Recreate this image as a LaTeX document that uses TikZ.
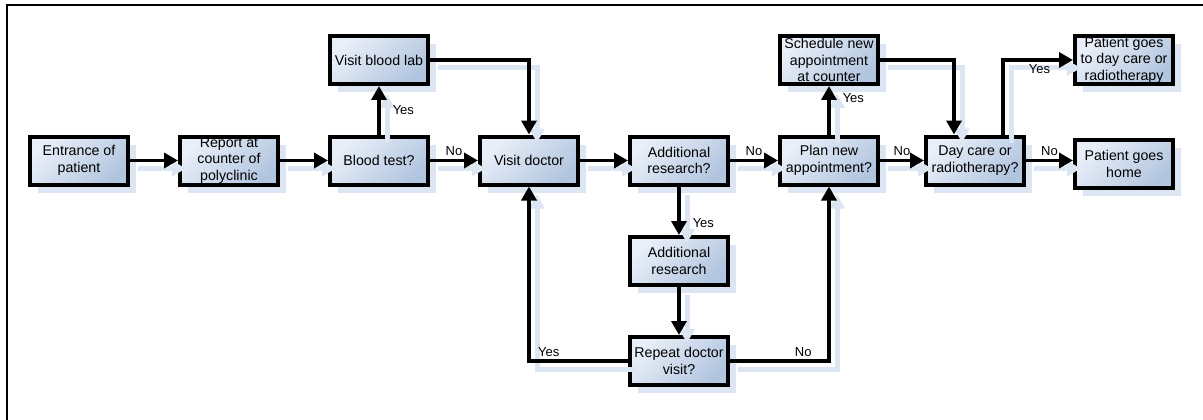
\documentclass[tikz,border=0pt]{standalone}
\usepackage{fontspec}
\setmainfont{Liberation Sans}
\usetikzlibrary{arrows.meta,shadows}
\definecolor{boxlight}{HTML}{E9EFF8}
\definecolor{boxdark}{HTML}{B2C5DF}
\definecolor{shadowc}{HTML}{DCE5F2}
\begin{document}
\begin{tikzpicture}[x=1pt,y=-1pt,
  stepbox/.style={draw=black, line width=4pt, minimum width=98pt, minimum height=48pt,
    inner sep=1pt, align=center, font=\fontsize{14.2}{16.6}\selectfont,
    top color=boxlight, bottom color=boxdark, shading angle=45,
    drop shadow={shadow xshift=8pt, shadow yshift=-8pt, fill=shadowc, draw=none, opacity=1}},
  flow/.style={line width=3.5pt, -{Triangle[length=14pt,width=15pt]},
    preaction={draw=shadowc, line width=5pt, transform canvas={shift={(8pt,-8pt)}}}},
  lbl/.style={font=\fontsize{13}{15}\selectfont, inner sep=1pt}]
\useasboundingbox (0,0) rectangle (1203,420);
% page frame
\draw[line width=2pt] (7,420) -- (7,5) -- (1203,5);

% process steps
\node[stepbox] (entr)  at (79,160.5)  {Entrance of\\patient};
\node[stepbox] (rep)   at (229,160.5) {Report at\\counter of\\polyclinic};
\node[stepbox] (bt)    at (379,160.5) {Blood test?};
\node[stepbox] (lab)   at (379,60)    {Visit blood lab};
\node[stepbox] (doc)   at (529,160.5) {Visit doctor};
\node[stepbox] (addq)  at (679,160.5) {Additional\\research?};
\node[stepbox] (add)   at (679,261)   {Additional\\research};
\node[stepbox] (rep2)  at (679,361)   {Repeat doctor\\visit?};
\node[stepbox] (plan)  at (829,160.5) {Plan new\\appointment?};
\node[stepbox] (sched) at (829,60)    {Schedule new\\appointment\\at counter};
\node[stepbox] (day)   at (975,160.5) {Day care or\\radiotherapy?};
\node[stepbox] (pday)  at (1124,60)   {Patient goes\\to day care or\\radiotherapy};
\node[stepbox] (home)  at (1124,164)  {Patient goes\\home};

% connectors
\draw[flow] (entr) -- (rep);
\draw[flow] (rep) -- (bt);
\draw[flow] (bt) -- node[lbl, right=11pt]{Yes} (lab);
\draw[flow] (bt) -- node[lbl, above=2pt]{No} (doc);
\draw[flow] (lab.east) -| (doc.north);
\draw[flow] (doc) -- (addq);
\draw[flow] (addq) -- node[lbl, right=11pt, pos=0.75]{Yes} (add);
\draw[flow] (addq) -- node[lbl, above=2pt]{No} (plan);
\draw[flow] (add) -- (rep2);
\draw[flow] (rep2.west) -| node[lbl, above=2pt, pos=0.4]{Yes} (doc.south);
\draw[flow] (rep2.east) -| node[lbl, above=2pt, pos=0.37]{No} (plan.south);
\draw[flow] (plan) -- node[lbl, right=11pt, pos=0.75]{Yes} (sched);
\draw[flow] (plan) -- node[lbl, above=2pt]{No} (day);
\draw[flow] (sched.east) -| ([xshift=-21pt]day.north);
\draw[flow] ([xshift=28pt]day.north) |- node[lbl, below=2pt, pos=0.76]{Yes} (pday.west);
\draw[flow] (day.east) -- node[lbl, above=2pt]{No} (day.east -| home.west);
\end{tikzpicture}
\end{document}
